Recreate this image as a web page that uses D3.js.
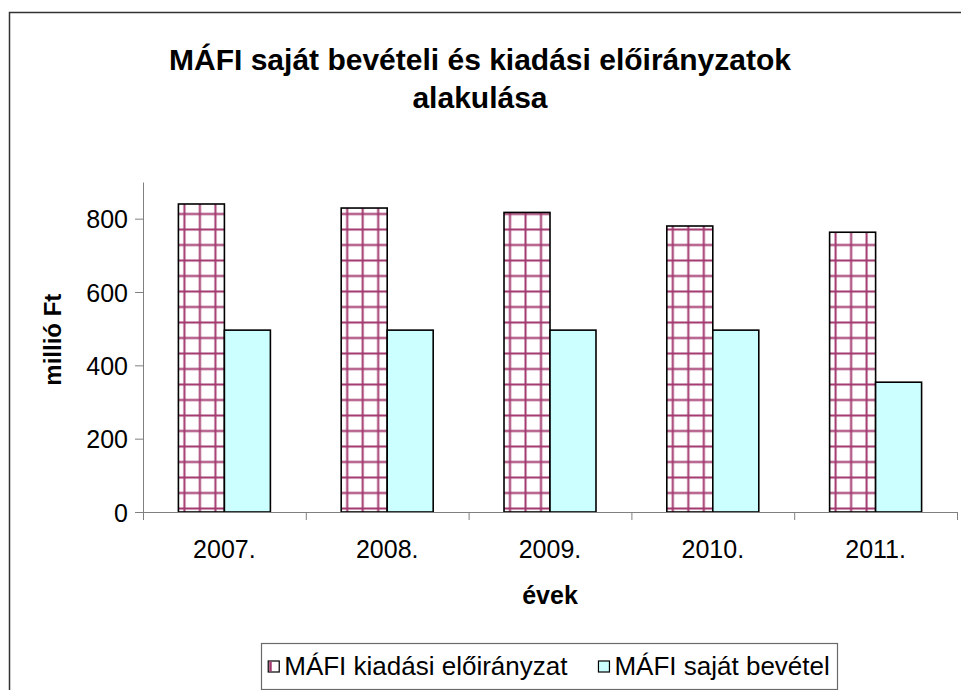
<!DOCTYPE html>
<html>
<head>
<meta charset="utf-8">
<script src="https://cdn.jsdelivr.net/npm/d3@7"></script>
<style>
  body { margin: 0; background: #fff; }
  text { font-family: "Liberation Sans", Arial, sans-serif; fill: #000; }
</style>
</head>
<body>
<div id="chart"></div>
<script>
const YEARS = ["2007.", "2008.", "2009.", "2010.", "2011."];
const SERIES = ["MÁFI kiadási előirányzat", "MÁFI saját bevétel"];
const KIADASI = [840, 829, 817, 780, 763];
const BEVETEL = [496, 496, 496, 496, 354];
const Y_TICKS = [0, 200, 400, 600, 800];
const Y_MAX = 900;

const FRAME_WIDTH = 961;
const FRAME_HEIGHT = 690;
const MARGINS = { left: 143, right: 4, top: 182, bottom: 178 };
const VIS_WIDTH = FRAME_WIDTH - MARGINS.left - MARGINS.right;
const VIS_HEIGHT = FRAME_HEIGHT - MARGINS.top - MARGINS.bottom;

const AXIS_COLOR = "#808080";
const CYAN = "#ccffff";
const PLUM = "#a3396f";
const FONT = '"Liberation Sans", Arial, sans-serif';

const data = YEARS.map((y, i) => ({ year: y, values: [KIADASI[i], BEVETEL[i]] }));

const svg = d3.select("#chart")
  .append("svg")
  .attr("width", FRAME_WIDTH)
  .attr("height", FRAME_HEIGHT);

// checkered pattern for the first series (lined up with the page grid)
const defs = svg.append("defs");
const pat = defs.append("pattern")
  .attr("id", "grid")
  .attr("patternUnits", "userSpaceOnUse")
  .attr("x", 180 - 1.5 - MARGINS.left)
  .attr("y", 214 - 1.5 - MARGINS.top)
  .attr("width", 15.5)
  .attr("height", 15.5);
pat.append("rect").attr("width", 15.5).attr("height", 15.5).attr("fill", "#fff");
pat.append("rect").attr("width", 3).attr("height", 15.5).attr("fill", PLUM).attr("opacity", 0.35);
pat.append("rect").attr("width", 15.5).attr("height", 3).attr("fill", PLUM).attr("opacity", 0.35);
pat.append("rect").attr("x", 0.75).attr("width", 1.5).attr("height", 15.5).attr("fill", PLUM);
pat.append("rect").attr("y", 0.75).attr("width", 15.5).attr("height", 1.5).attr("fill", PLUM);

// outer chart border (runs off the right and bottom of the picture)
svg.append("rect")
  .attr("x", 9.5)
  .attr("y", 12.5)
  .attr("width", FRAME_WIDTH)
  .attr("height", FRAME_HEIGHT)
  .attr("fill", "none")
  .attr("stroke", "#333")
  .attr("stroke-width", 1.5);

// title
const title = svg.append("text")
  .attr("x", 480)
  .attr("y", 70)
  .attr("text-anchor", "middle")
  .style("font-size", "30px")
  .style("font-weight", "bold");
title.append("tspan").attr("x", 480).text("MÁFI saját bevételi és kiadási előirányzatok");
title.append("tspan").attr("x", 480).attr("dy", 38).text("alakulása");

const g = svg.append("g").attr("transform", `translate(${MARGINS.left},${MARGINS.top})`);

const Y_SCALE = d3.scaleLinear().domain([0, Y_MAX]).range([VIS_HEIGHT, 0]);
const X_SCALE = d3.scaleBand().domain(YEARS).range([0, VIS_WIDTH])
  .paddingInner(0.435).paddingOuter(0.2175);
const X_SUB = d3.scaleBand().domain([0, 1]).range([0, X_SCALE.bandwidth()]);
const X_BOUND = d3.scaleLinear().domain([0, YEARS.length]).range([0, VIS_WIDTH]);

// bars
const groups = g.selectAll("g.year")
  .data(data)
  .enter()
  .append("g")
  .attr("class", "year")
  .attr("transform", (d) => `translate(${X_SCALE(d.year)},0)`);

groups.selectAll("rect")
  .data((d) => d.values.map((v, i) => ({ v, i })))
  .enter()
  .append("rect")
  .attr("x", (d) => X_SUB(d.i))
  .attr("y", (d) => Y_SCALE(d.v))
  .attr("width", X_SUB.bandwidth())
  .attr("height", (d) => VIS_HEIGHT - Y_SCALE(d.v))
  .attr("fill", (d) => (d.i === 0 ? "url(#grid)" : CYAN))
  .attr("stroke", "#000")
  .attr("stroke-width", 1.6);

// y axis
const yAxis = g.append("g")
  .call(d3.axisLeft(Y_SCALE).tickValues(Y_TICKS).tickSize(8).tickPadding(7).tickSizeOuter(0));
yAxis.select(".domain").attr("stroke", AXIS_COLOR);
yAxis.selectAll(".tick line").attr("stroke", AXIS_COLOR);
yAxis.selectAll(".tick text")
  .style("font-size", "25px")
  .style("font-family", FONT)
  .attr("fill", "#000")
  .attr("dy", "0.36em");

// x axis: ticks on the category boundaries
const xAxis = g.append("g")
  .attr("transform", `translate(0,${VIS_HEIGHT})`)
  .call(d3.axisBottom(X_BOUND).tickValues(d3.range(YEARS.length + 1)).tickSize(8)
    .tickFormat("").tickSizeOuter(0));
xAxis.select(".domain").attr("stroke", AXIS_COLOR);
xAxis.selectAll(".tick line").attr("stroke", AXIS_COLOR);

// x labels
const xLabels = g.append("g")
  .attr("transform", `translate(0,${VIS_HEIGHT})`)
  .call(d3.axisBottom(X_SCALE).tickSize(0).tickPadding(28));
xLabels.select(".domain").remove();
xLabels.selectAll(".tick text")
  .style("font-size", "25px")
  .style("font-family", FONT)
  .attr("fill", "#000");

// axis titles
svg.append("text")
  .attr("x", MARGINS.left + VIS_WIDTH / 2)
  .attr("y", 604)
  .attr("text-anchor", "middle")
  .style("font-size", "25px")
  .style("font-weight", "bold")
  .text("évek");

svg.append("text")
  .attr("transform", `translate(61,${MARGINS.top + Y_SCALE(470)}) rotate(-90)`)
  .attr("text-anchor", "middle")
  .style("font-size", "24px")
  .style("font-weight", "bold")
  .text("millió Ft");

// legend
const LEGEND_BOX = { x: 261, y: 643, w: 576, h: 46 };
const legend = svg.append("g").attr("transform", `translate(${LEGEND_BOX.x},${LEGEND_BOX.y})`);
legend.append("rect")
  .attr("x", 0.5)
  .attr("y", 0.5)
  .attr("width", LEGEND_BOX.w)
  .attr("height", LEGEND_BOX.h)
  .attr("fill", "#fff")
  .attr("stroke", "#6a6a6a")
  .attr("stroke-width", 1.2);

const items = SERIES.map((name, i) => {
  const item = legend.append("g");
  item.append("rect")
    .attr("x", 0)
    .attr("y", 18)
    .attr("width", 11)
    .attr("height", 11)
    .attr("fill", i === 0 ? "#fff" : CYAN)
    .attr("stroke", "#000")
    .attr("stroke-width", 1.2);
  if (i === 0) {
    item.append("rect").attr("x", 1).attr("y", 18.5).attr("width", 2.5).attr("height", 10)
      .attr("fill", PLUM);
  }
  const t = item.append("text")
    .attr("x", 16)
    .attr("y", 32)
    .style("font-size", "26px")
    .text(name);
  return { item, w: 16 + t.node().getComputedTextLength() };
});
const ITEM_GAP = 31;
const total = d3.sum(items, (d) => d.w) + ITEM_GAP * (items.length - 1);
let cursor = (LEGEND_BOX.w - total) / 2;
items.forEach((d) => {
  d.item.attr("transform", `translate(${cursor},0)`);
  cursor += d.w + ITEM_GAP;
});
</script>
</body>
</html>
